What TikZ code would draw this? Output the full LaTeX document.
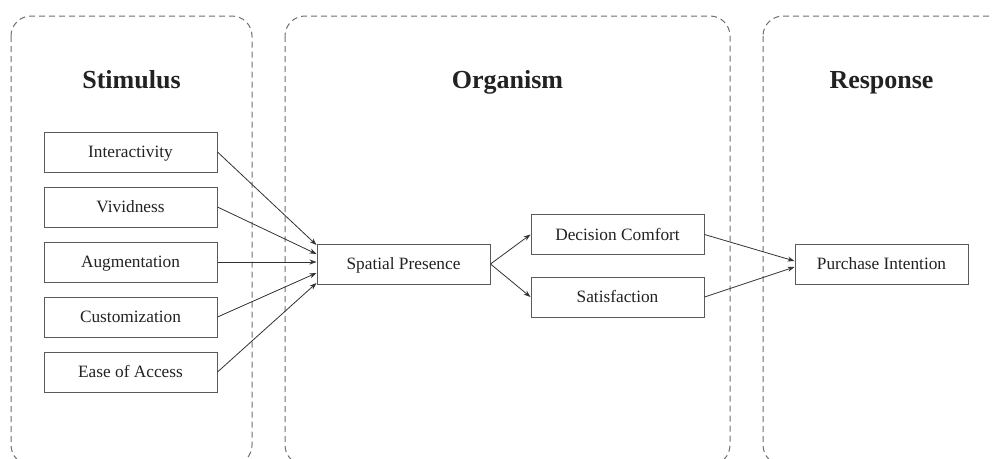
\documentclass[tikz,border=0pt]{standalone}
\usepackage{fontspec}
\setmainfont{Liberation Serif}
\usetikzlibrary{arrows.meta,calc}
\definecolor{boxline}{HTML}{5A5A5A}
\definecolor{dashline}{HTML}{707070}
\definecolor{txt}{HTML}{222222}
\definecolor{arr}{HTML}{333333}
\tikzset{
  varbox/.style={draw=boxline,line width=1pt,minimum width=173pt,minimum height=40pt,inner sep=0pt,
    font=\fontsize{17.3}{20}\selectfont,text=txt,text height=11.5pt,text depth=0pt},
  panel/.style={draw=dashline,line width=1pt,dash pattern=on 6pt off 4pt,rounded corners=20pt},
  paneltitle/.style={anchor=base,font=\fontsize{26}{30}\selectfont\bfseries,text=txt},
  link/.style={draw=arr,line width=0.8pt,-{Stealth[length=7pt,width=5pt]}}
}
\begin{document}
\begin{tikzpicture}[x=1pt,y=-1pt]
\useasboundingbox (0,0) rectangle (993,458);
\clip (0,0) rectangle (993,458);
\fill[white] (0,0) rectangle (993,458);
% panels
\draw[panel] (11,16) rectangle (252,465);
\draw[panel] (285,16) rectangle (730,465);
\draw[panel] (763,16) rectangle (1030,465);
\node[paneltitle] (tS) at (131.5,88) {Stimulus};
\node[paneltitle] (tO) at (507.5,88) {Organism};
\node[paneltitle] (tR) at (881.5,88) {Response};
% stimulus nodes
\node[varbox] (inter) at (130.5,152) {Interactivity};
\node[varbox] (vivid) at (130.5,207) {Vividness};
\node[varbox] (augm)  at (130.5,262) {Augmentation};
\node[varbox] (cust)  at (130.5,317) {Customization};
\node[varbox] (ease)  at (130.5,372) {Ease of Access};
% organism nodes
\node[varbox] (sp) at (403.5,264) {Spatial Presence};
\node[varbox] (dc) at (617.5,234.5) {Decision Comfort};
\node[varbox] (sat) at (617.5,297) {Satisfaction};
% response
\node[varbox] (pi) at (881.5,264) {Purchase Intention};
% arrows
\draw[link] (inter.east) -- ($(sp.west)+(0,-19)$);
\draw[link] (vivid.east) -- ($(sp.west)+(0,-10)$);
\draw[link] (augm.east) -- (sp.west |- augm.east);
\draw[link] (cust.east) -- ($(sp.west)+(0,9)$);
\draw[link] (ease.east) -- ($(sp.west)+(0,19)$);
\draw[link] (sp.east) -- (dc.west);
\draw[link] (sp.east) -- (sat.west);
\draw[link] (dc.east) -- ($(pi.west)+(0,-3)$);
\draw[link] (sat.east) -- ($(pi.west)+(0,3)$);
\end{tikzpicture}
\end{document}
